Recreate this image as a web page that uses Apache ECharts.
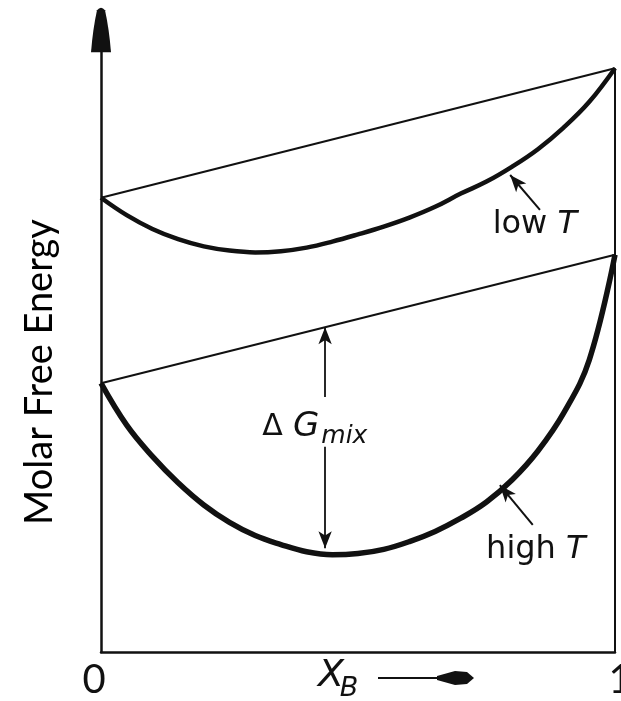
<!DOCTYPE html>
<html lang="en">
<head>
<meta charset="UTF-8">
<title>Molar Free Energy</title>
<script src="https://cdn.jsdelivr.net/npm/echarts@6/dist/echarts.min.js"></script>
<style>
    html, body { margin: 0; padding: 0; background: #fff; }
    #main { width: 621px; height: 701px; }
</style>
</head>
<body>
<div id="main"></div>
<script>
// composition X_B and molar free energy (arbitrary units)
var xB = [0, 0.05, 0.1, 0.15, 0.2, 0.25, 0.3, 0.35, 0.4, 0.45, 0.5,
          0.55, 0.6, 0.65, 0.7, 0.75, 0.8, 0.85, 0.9, 0.95, 1];
var lowTY  = [75.7, 72.8, 70.5, 68.8, 67.6, 66.9, 66.6, 66.8, 67.4, 68.4, 69.6,
              70.9, 72.4, 74.2, 76.4, 78.4, 80.9, 83.8, 87.4, 91.7, 97.3];
var highTY = [44.8, 37.8, 32.6, 28.2, 24.5, 21.6, 19.4, 17.9, 16.7, 16.2, 16.4,
              17.1, 18.4, 20.1, 22.3, 25.0, 28.7, 33.5, 39.8, 48.7, 66.2];
// free energy of pure A (x=0) and pure B (x=1), the ends of the chords
var lowTEnds  = [75.7, 97.3];
var highTEnds = [44.8, 66.2];
var xTicks = [0, 1];

// where the mixing gap is marked, and the label / pointer spots
var dGx = 0.436, dGCurve = 17.3, dGTextTop = 42.5, dGTextBottom = 34.2;
var dGLabel = [0.416, 37.5];
var lowLabel = [0.844, 71.2], lowPtr = [[0.854, 73.7], [0.796, 79.5]];
var highLabel = [0.846, 17.0], highPtr = [[0.840, 21.2], [0.776, 27.8]];

var black = '#111';
var txtFont = 'DejaVu Sans';

function zip(xs, ys) {
    return xs.map(function (x, i) { return [x, ys[i]]; });
}
function chordAt(ends, x) {
    return ends[0] + (ends[1] - ends[0]) * x;
}

var chart = echarts.init(document.getElementById('main'));

var arrowLine = {
    silent: true,
    symbol: ['none', 'arrow'],
    symbolSize: [10, 17],
    label: {show: false},
    lineStyle: {color: black, width: 2, type: 'solid'},
    emphasis: {disabled: true}
};

function textPoint(coord, text, rich) {
    return {
        silent: true,
        symbol: 'circle',
        symbolSize: 1,
        itemStyle: {color: 'rgba(0,0,0,0)'},
        label: {
            show: true, position: 'inside', color: black,
            fontFamily: txtFont, fontSize: 32,
            formatter: text, rich: rich
        },
        data: [{coord: coord}]
    };
}

var option = {
    animation: false,
    grid: {left: 101, right: 6, top: 52, bottom: 49, containLabel: false, outerBoundsMode: 'none'},
    xAxis: {
        type: 'value', min: 0, max: 1, interval: 1,
        axisLine: {lineStyle: {color: black, width: 2.5}},
        axisTick: {show: false},
        splitLine: {show: false},
        axisLabel: {
            color: black, fontSize: 40, fontFamily: 'Lato', margin: 8,
            formatter: function (v) {
                if (xTicks.indexOf(v) < 0) return '';
                return v === 0 ? '{a|0}' : '{b|' + v + '}';
            },
            rich: {
                a: {fontSize: 40, fontFamily: 'Lato', color: black, padding: [0, 14, 0, 0]},
                b: {fontSize: 40, fontFamily: 'Lato', color: black, padding: [0, 0, 0, 10]}
            }
        }
    },
    yAxis: {
        type: 'value', min: 0, max: 100,
        axisLine: {
            show: true,
            lineStyle: {color: black, width: 2.5},
            symbol: ['none', 'path://M6,2 Q10,-3 14,2 Q18,20 20,44 L0,44 Q2,20 6,2 Z'],
            symbolSize: [20, 46],
            symbolOffset: [0, 22]
        },
        axisTick: {show: false},
        axisLabel: {show: false},
        splitLine: {show: false}
    },
    series: [
        {
            name: 'low T', type: 'line', data: zip(xB, lowTY),
            smooth: 0.4, showSymbol: false, clip: false,
            lineStyle: {color: black, width: 4.5},
            markLine: Object.assign({}, arrowLine, {data: [[{coord: lowPtr[0]}, {coord: lowPtr[1]}]]}),
            markPoint: textPoint(lowLabel, 'low {it|T}', {it: {fontStyle: 'italic', fontFamily: txtFont, fontSize: 32}})
        },
        {
            name: 'low T chord', type: 'line', data: [[0, lowTEnds[0]], [1, lowTEnds[1]]],
            showSymbol: false, clip: false,
            lineStyle: {color: black, width: 2}
        },
        {
            name: 'high T', type: 'line', data: zip(xB, highTY),
            smooth: 0.4, showSymbol: false, clip: false,
            lineStyle: {color: black, width: 5.5},
            markLine: Object.assign({}, arrowLine, {data: [[{coord: highPtr[0]}, {coord: highPtr[1]}]]}),
            markPoint: textPoint(highLabel, 'high {it|T}', {it: {fontStyle: 'italic', fontFamily: txtFont, fontSize: 32}})
        },
        {
            name: 'high T chord', type: 'line', data: [[0, highTEnds[0]], [1, highTEnds[1]]],
            showSymbol: false, clip: false,
            lineStyle: {color: black, width: 2}
        },
        {
            // ΔGmix marker between chord and curve
            name: 'mix', type: 'line', data: [],
            markLine: Object.assign({}, arrowLine, {
                lineStyle: {color: black, width: 1.8, type: 'solid'},
                data: [
                    [{coord: [dGx, dGTextTop]}, {coord: [dGx, chordAt(highTEnds, dGx)]}],
                    [{coord: [dGx, dGTextBottom]}, {coord: [dGx, dGCurve]}]
                ]
            }),
            markPoint: textPoint(dGLabel, '{d|Δ} {g|G}{sub|mix}', {
                d: {fontFamily: txtFont, fontSize: 30},
                g: {fontFamily: txtFont, fontSize: 34, fontStyle: 'italic'},
                sub: {fontFamily: txtFont, fontSize: 25, fontStyle: 'italic', padding: [18, 0, 0, 2]}
            })
        },
        {
            name: 'edge', type: 'line', data: [[1, 0], [1, lowTEnds[1]]],
            showSymbol: false, clip: false,
            lineStyle: {color: black, width: 2}
        }
    ],
    graphic: [
        {
            type: 'text', x: 40, y: 372, rotation: Math.PI / 2,
            style: {text: 'Molar Free Energy', fontFamily: 'Lato', fontSize: 38, fill: '#000',
                    align: 'center', verticalAlign: 'middle'}
        },
        {
            type: 'text', x: 331, y: 676,
            style: {text: 'X', fontFamily: txtFont, fontStyle: 'italic', fontSize: 38, fill: black,
                    align: 'center', verticalAlign: 'middle'}
        },
        {
            type: 'text', x: 349, y: 689,
            style: {text: 'B', fontFamily: txtFont, fontStyle: 'italic', fontSize: 27, fill: black,
                    align: 'center', verticalAlign: 'middle'}
        },
        {
            type: 'line', shape: {x1: 378, y1: 678, x2: 445, y2: 678},
            style: {stroke: black, lineWidth: 2}
        },
        {
            type: 'polygon',
            shape: {points: [[437, 676], [455, 671], [467, 672], [474, 678], [467, 684], [455, 685], [437, 680]]},
            style: {fill: black}
        }
    ]
};

chart.setOption(option);
</script>
</body>
</html>
